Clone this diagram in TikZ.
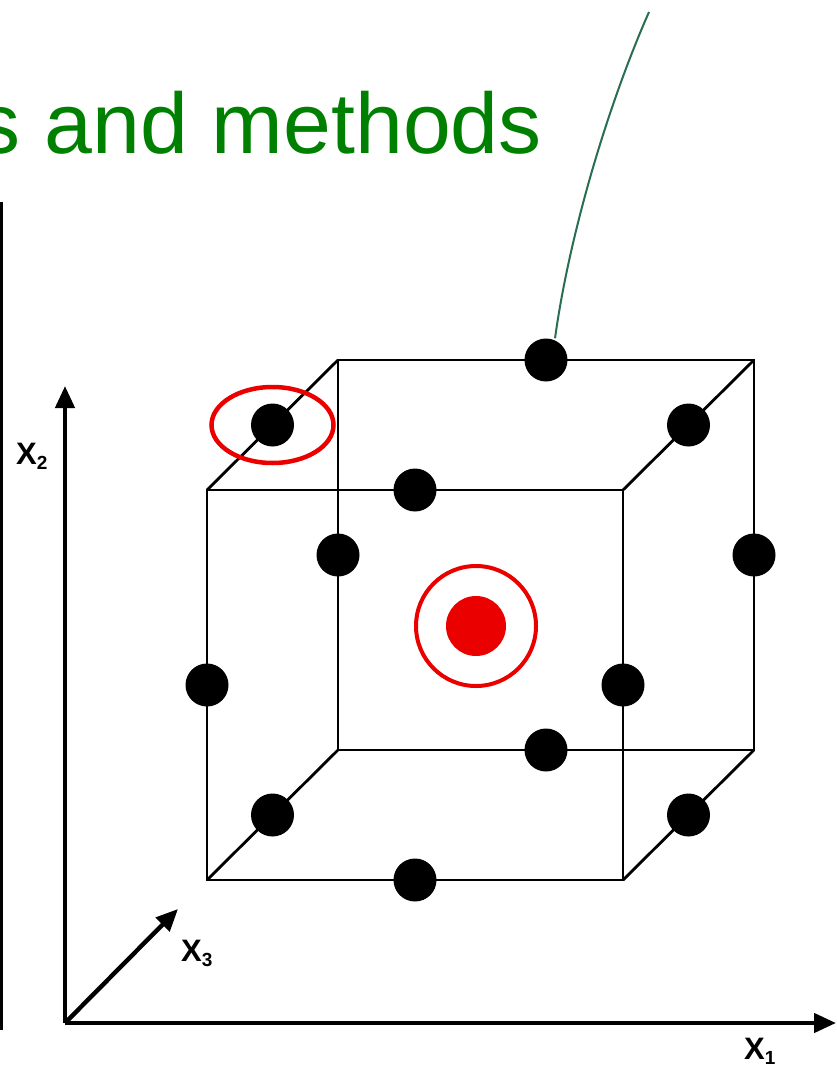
\documentclass[tikz,border=0pt]{standalone}
\usepackage{fontspec}
\setmainfont{Liberation Sans}
\usetikzlibrary{arrows.meta,calc}
\definecolor{titlegreen}{RGB}{0,128,0}
\definecolor{curvegreen}{RGB}{40,110,80}
\definecolor{dotred}{RGB}{235,0,0}
\newcommand{\axlab}[2]{\textbf{#1}\raisebox{-0.3ex}{\fontsize{19}{19}\selectfont\bfseries #2}}
\begin{document}
\begin{tikzpicture}[x=1pt,y=-1pt,
  edge/.style={line width=2.8pt,black},
  axis/.style={line width=4.4pt,black,-{Triangle[length=22pt,width=19pt]}},
  pt/.style={circle,fill=black,inner sep=0pt,minimum size=43pt},
  lab/.style={font=\fontsize{31}{31}\selectfont,inner sep=0pt}]
\useasboundingbox (0,0) rectangle (836,1067);
\fill[white] (0,0) rectangle (836,1067);
% title
\node[anchor=base east,text=titlegreen,font=\fontsize{86}{86}\selectfont,inner sep=0pt] (title) at (542,154) {s and methods};
% left frame line
\coordinate (ft) at (1.5,202);
\coordinate (fb) at (1.5,1030);
\draw[line width=2.5pt] (ft) -- (fb);
% axes
\coordinate (o) at (65,1023);
\coordinate (x1e) at (836,1023);
\coordinate (x2e) at (65,386);
\coordinate (x3e) at (178,909);
\draw[axis] (o) -- (x1e);
\draw[axis] (o) -- (x2e);
\draw[axis] (o) -- (x3e);
\node[lab,anchor=west] (l1) at (744,1051) {\axlab{X}{1}};
\node[lab,anchor=west] (l2) at (16,456) {\axlab{X}{2}};
\node[lab,anchor=west] (l3) at (181,953) {\axlab{X}{3}};
% cube corners
\coordinate (A) at (207,880); \coordinate (B) at (623,880);
\coordinate (C) at (623,490); \coordinate (D) at (207,490);
\coordinate (E) at (338,750); \coordinate (F) at (754,750);
\coordinate (G) at (754,360); \coordinate (H) at (338,360);
\draw[edge] (A) -- (B) -- (C) -- (D) -- cycle;
\draw[edge] (E) -- (F) -- (G) -- (H) -- cycle;
\draw[edge] (A) -- (E) (B) -- (F) (C) -- (G) (D) -- (H);
% edge-midpoint design points
\node[pt] (p1) at ($(A)!0.5!(B)$) {};
\node[pt] (p2) at ($(D)!0.5!(C)$) {};
\node[pt] (p3) at ($(A)!0.5!(D)$) {};
\node[pt] (p4) at ($(B)!0.5!(C)$) {};
\node[pt] (p5) at ($(E)!0.5!(F)$) {};
\node[pt] (p6) at ($(H)!0.5!(G)$) {};
\node[pt] (p7) at ($(E)!0.5!(H)$) {};
\node[pt] (p8) at ($(F)!0.5!(G)$) {};
\node[pt] (p9) at ($(A)!0.5!(E)$) {};
\node[pt] (p10) at ($(B)!0.5!(F)$) {};
\node[pt] (p11) at ($(C)!0.5!(G)$) {};
\node[pt] (p12) at ($(D)!0.5!(H)$) {};
% centre point
\node[circle,fill=dotred,inner sep=0pt,minimum size=60pt] (ctr) at (476,626) {};
\node[circle,draw=dotred,line width=4pt,inner sep=0pt,minimum size=120pt] (ring) at (ctr) {};
% highlight ellipse
\draw[dotred,line width=4.5pt] (p12) ellipse [x radius=61pt,y radius=38pt];
% green leader curve
\coordinate (ct) at (649,12);
\draw[curvegreen,line width=2pt] ([xshift=9pt]p6.north) .. controls (570,230) and (610,100) .. (ct);
\end{tikzpicture}
\end{document}
